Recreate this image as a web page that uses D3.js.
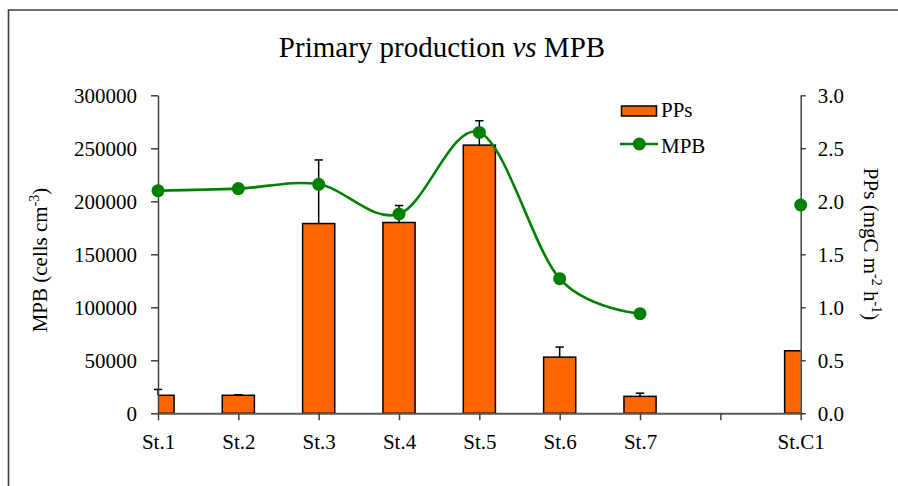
<!DOCTYPE html>
<html>
<head>
<meta charset="utf-8">
<script src="https://cdn.jsdelivr.net/npm/d3@7"></script>
<style>
  html, body { margin: 0; padding: 0; background: #fff; }
  svg { display: block; font-family: "Liberation Serif", "Times New Roman", serif; }
</style>
</head>
<body>
<svg id="chart" width="898" height="486"></svg>
<script>
// Stations along the x axis (an empty slot separates the control station)
const categories = ["St.1", "St.2", "St.3", "St.4", "St.5", "St.6", "St.7", "", "St.C1"];
// Primary production (mgC m-2 h-1), right axis
const ppsValues = [0.17, 0.17, 1.79, 1.80, 2.53, 0.53, 0.16, null, 0.59];
// Upper error of primary production
const ppsErrors = [0.055, 0.005, 0.60, 0.16, 0.23, 0.095, 0.03, null, null];
// Microphytobenthos abundance (cells cm-3), left axis
const mpbValues = [210000, 212000, 216000, 188000, 265000, 127000, 94000, null, 196500];
// Axis tick values
const mpbTicks = [0, 50000, 100000, 150000, 200000, 250000, 300000];
const ppsTicks = [0, 0.5, 1.0, 1.5, 2.0, 2.5, 3.0];

const svg = d3.select("#chart");
const plot = { left: 158, right: 800.7, top: 95.3, bottom: 413.3 };

const x = d3.scalePoint().domain(categories).range([plot.left, plot.right]).padding(0);
const yL = d3.scaleLinear().domain([0, 300000]).range([plot.bottom, plot.top]);
const yR = d3.scaleLinear().domain([0, 3]).range([plot.bottom, plot.top]);
const barW = x.step() / 2.5;

// Outer frame
svg.append("path")
  .attr("d", "M8.5,486 V10 H898")
  .attr("fill", "none").attr("stroke", "#404040").attr("stroke-width", 1.6);

// Title
const title = svg.append("text")
  .attr("x", 442).attr("y", 57).attr("text-anchor", "middle")
  .attr("font-size", 29).attr("fill", "#000");
title.append("tspan").text("Primary production ");
title.append("tspan").attr("font-style", "italic").text("vs");
title.append("tspan").text(" MPB");

// Clip bars to the plotting area
svg.append("defs").append("clipPath").attr("id", "plotClip")
  .append("rect")
  .attr("x", plot.left).attr("y", 0)
  .attr("width", plot.right - plot.left).attr("height", plot.bottom + 1);

const rows = categories.map((c, i) => ({ c, pps: ppsValues[i], err: ppsErrors[i], mpb: mpbValues[i] }));

// Bars (PPs)
svg.append("g").attr("clip-path", "url(#plotClip)")
  .selectAll("rect")
  .data(rows.filter(d => d.pps != null))
  .join("rect")
  .attr("x", d => x(d.c) - barW / 2)
  .attr("y", d => yR(d.pps))
  .attr("width", barW)
  .attr("height", d => yR(0) - yR(d.pps))
  .attr("fill", "#FF6600")
  .attr("stroke", "#000").attr("stroke-width", 1.5);

// Error bars (upper only)
const eb = svg.append("g").attr("stroke", "#000").attr("stroke-width", 1.5)
  .selectAll("g")
  .data(rows.filter(d => d.err != null))
  .join("g");
eb.append("line")
  .attr("x1", d => x(d.c)).attr("x2", d => x(d.c))
  .attr("y1", d => yR(d.pps)).attr("y2", d => yR(d.pps + d.err));
eb.append("line")
  .attr("x1", d => x(d.c) - 4.2).attr("x2", d => x(d.c) + 4.2)
  .attr("y1", d => yR(d.pps + d.err)).attr("y2", d => yR(d.pps + d.err));

// Axes
const axisL = svg.append("g").attr("transform", `translate(${plot.left},0)`)
  .call(d3.axisLeft(yL).tickValues(mpbTicks).tickFormat(d3.format("d")).tickSize(7).tickSizeOuter(0).tickPadding(14));
const axisR = svg.append("g").attr("transform", `translate(${plot.right},0)`)
  .call(d3.axisRight(yR).tickValues(ppsTicks).tickFormat(d3.format(".1f")).tickSize(5).tickSizeOuter(0).tickPadding(12));
const axisB = svg.append("g").attr("transform", `translate(0,${plot.bottom})`)
  .call(d3.axisBottom(x).tickSize(7).tickSizeOuter(0).tickPadding(13));

[axisL, axisR, axisB].forEach(a => {
  a.selectAll("text").attr("font-size", 21).attr("fill", "#000")
    .attr("font-family", "'Liberation Serif', 'Times New Roman', serif");
  a.selectAll("line").attr("stroke", "#404040").attr("stroke-width", 1.5);
  a.select(".domain").attr("stroke", "#404040").attr("stroke-width", 1.5);
});
axisB.select(".domain").attr("stroke", "#595959").attr("stroke-width", 2);
axisB.selectAll("text").attr("dy", "0.75em");

// MPB smoothed line and markers
const line = d3.line()
  .defined(d => d.mpb != null)
  .x(d => x(d.c)).y(d => yL(d.mpb))
  .curve(d3.curveCatmullRom.alpha(0));
svg.append("path").datum(rows)
  .attr("d", line)
  .attr("fill", "none").attr("stroke", "#008000").attr("stroke-width", 2.6);
svg.append("g").selectAll("circle")
  .data(rows.filter(d => d.mpb != null))
  .join("circle")
  .attr("cx", d => x(d.c)).attr("cy", d => yL(d.mpb)).attr("r", 6.5)
  .attr("fill", "#008000");

// Axis titles
const tL = svg.append("text")
  .attr("transform", "translate(47,260) rotate(-90)")
  .attr("text-anchor", "middle").attr("font-size", 21).attr("fill", "#000");
tL.append("tspan").text("MPB (cells cm");
tL.append("tspan").attr("font-size", 14).attr("dy", -8).text("-3");
tL.append("tspan").attr("dy", 8).text(")");

const tR = svg.append("text")
  .attr("transform", "translate(864,244) rotate(90)")
  .attr("text-anchor", "middle").attr("font-size", 21).attr("fill", "#000");
tR.append("tspan").text("PPs (mgC m");
tR.append("tspan").attr("font-size", 14).attr("dy", -8).text("-2");
tR.append("tspan").attr("dy", 8).text(" h");
tR.append("tspan").attr("font-size", 14).attr("dy", -8).text("-1");
tR.append("tspan").attr("dy", 8).text(")");

// Legend
const lg = svg.append("g");
lg.append("rect").attr("x", 621.5).attr("y", 106).attr("width", 35).attr("height", 10)
  .attr("fill", "#FF6600").attr("stroke", "#000").attr("stroke-width", 1.5);
lg.append("text").attr("x", 661).attr("y", 117).attr("font-size", 21).attr("fill", "#000").text("PPs");
lg.append("line").attr("x1", 620).attr("x2", 658).attr("y1", 144).attr("y2", 144)
  .attr("stroke", "#008000").attr("stroke-width", 2.6);
lg.append("circle").attr("cx", 639.3).attr("cy", 144).attr("r", 6.5).attr("fill", "#008000");
lg.append("text").attr("x", 661).attr("y", 153).attr("font-size", 21).attr("fill", "#000").text("MPB");
</script>
</body>
</html>
